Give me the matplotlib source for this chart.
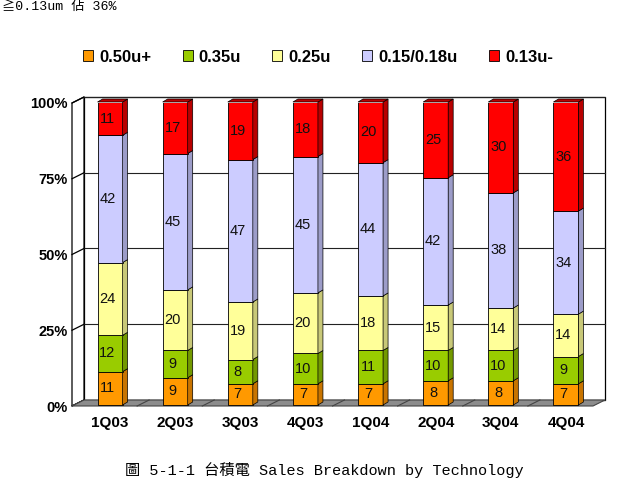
import numpy as np
import matplotlib.pyplot as plt
from matplotlib.patches import Polygon

quarters = ['1Q03', '2Q03', '3Q03', '4Q03', '1Q04', '2Q04', '3Q04', '4Q04']
tech = ['0.50u+', '0.35u', '0.25u', '0.15/0.18u', '0.13u-']
s050 = [11, 9, 7, 7, 7, 8, 8, 7]
s035 = [12, 9, 8, 10, 11, 10, 10, 9]
s025 = [24, 20, 19, 20, 18, 15, 14, 14]
s015 = [42, 45, 47, 45, 44, 42, 38, 34]
s013 = [11, 17, 19, 18, 20, 25, 30, 36]
yticks = [0, 25, 50, 75, 100]

series = [s050, s035, s025, s015, s013]
front = ['#FF9900', '#99CC00', '#FFFF99', '#CCCCFF', '#FF0000']
side = ['#C87400', '#739900', '#C8C878', '#9C9CC8', '#B80000']

fig = plt.figure(figsize=(6.21, 5.01), dpi=100)
ax = fig.add_axes([72/621, 95/501, 521/621, 303/501])
ax.set_xlim(-0.5, 7.5)
ax.set_ylim(0, 100)
for s in ax.spines.values():
    s.set_visible(False)

# pixel -> data units (axes is 521 x 303 px)
px = 8/521
py = 100/303
DX, DY = 12*px, 6*py      # wall depth
BX, BY = 5.5*px, 1*py     # bars sit mid depth
SX, SY = 5*px, 3*py       # bar side depth
W = 25*px

x = np.arange(len(quarters))

# back wall, left wall, floor
ax.add_patch(Polygon([(-0.5+DX, DY), (7.5+DX, DY), (7.5+DX, 100+DY), (-0.5+DX, 100+DY)],
                     closed=True, fc='white', ec='black', lw=0.9, clip_on=False, zorder=0))
ax.add_patch(Polygon([(-0.5, 0), (-0.5+DX, DY), (-0.5+DX, 100+DY), (-0.5, 100)],
                     closed=True, fc='white', ec='black', lw=0.9, clip_on=False, zorder=0))
for v in yticks:
    ax.plot([-0.5+DX, 7.5+DX], [v+DY, v+DY], color='#222222', lw=0.8, clip_on=False, zorder=0.5)
    ax.plot([-0.5, -0.5+DX], [v, v+DY], color='black', lw=0.9, clip_on=False, zorder=0.5)
ax.add_patch(Polygon([(-0.5, 0), (7.5, 0), (7.5+DX, DY), (-0.5+DX, DY)],
                     closed=True, fc='#8c8c8c', ec='#444444', lw=0.8, clip_on=False, zorder=1))
for i in range(1, 8):
    ax.plot([i-0.5, i-0.5+DX], [0, DY], color='#444444', lw=0.8, clip_on=False, zorder=1)

# stacked bars
bottom = np.zeros(len(quarters))
handles = []
for k, vals in enumerate(series):
    vals = np.array(vals, dtype=float)
    b = ax.bar(x + BX, vals, width=W, bottom=bottom + BY, color=front[k],
               edgecolor='black', lw=0.6, zorder=2, label=tech[k])
    handles.append(b)
    for i in range(len(quarters)):
        l = x[i] + BX - W/2
        r = x[i] + BX + W/2
        b0 = bottom[i] + BY
        t0 = bottom[i] + vals[i] + BY
        ax.add_patch(Polygon([(r, b0), (r+SX, b0+SY), (r+SX, t0+SY), (r, t0)], closed=True,
                             fc=side[k], ec='black', lw=0.5, zorder=2, clip_on=False))
        if k == len(series) - 1:
            ax.add_patch(Polygon([(l, t0), (l+SX, t0+SY), (r+SX, t0+SY), (r, t0)], closed=True,
                                 fc=side[k], ec='black', lw=0.5, zorder=2, clip_on=False))
        ax.text(x[i] + BX - 0.04, b0 + vals[i]/2, '%d' % vals[i], ha='center', va='center',
                fontsize=10.5, family='Liberation Sans', color='#111111', zorder=3)
    bottom += vals

ax.set_yticks(yticks)
ax.set_yticklabels(['%d%%' % v for v in yticks], fontsize=10.5, fontweight='bold',
                   family='Liberation Sans')
ax.set_xticks(x + BX)
ax.set_xticklabels(quarters, fontsize=11, fontweight='bold', family='Liberation Sans')
ax.tick_params(axis='y', length=0, pad=3)
ax.tick_params(axis='x', length=0, pad=7)

fig.legend(handles, tech, loc='center', bbox_to_anchor=(0.512, 0.886), ncol=5,
           frameon=False, handlelength=0.6, handleheight=0.6, handletextpad=0.35,
           columnspacing=1.9, prop={'family': 'Liberation Sans', 'weight': 'bold', 'size': 12})

fig.text(0.003, 0.999, '≧0.13um 佔 36%', ha='left', va='top', fontsize=9.5,
         family=['Liberation Mono', 'Noto Sans CJK TC'])
fig.text(0.522, 0.062, '圖 5-1-1 台積電 Sales Breakdown by Technology', ha='center', va='center',
         fontsize=11, family=['Liberation Mono', 'Noto Sans CJK TC'])

fig.savefig('out.png', dpi=100)
